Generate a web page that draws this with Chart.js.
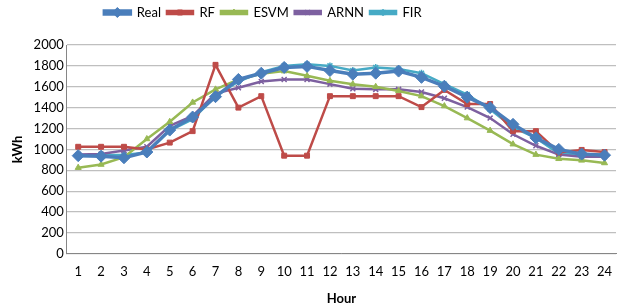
<!DOCTYPE html>
<html>
<head>
<meta charset="utf-8">
<script src="https://cdn.jsdelivr.net/npm/chart.js@4"></script>
<style>
  html, body { margin: 0; padding: 0; background: #fff; }
  #wrap { width: 628px; height: 307px; }
</style>
</head>
<body>
<div id="wrap"><canvas id="myChart" width="628" height="307"></canvas></div>
<script>
const hours = ['1','2','3','4','5','6','7','8','9','10','11','12','13','14','15','16','17','18','19','20','21','22','23','24'];
const real = [940, 935, 920, 975, 1185, 1310, 1505, 1670, 1730, 1785, 1795, 1755, 1720, 1730, 1750, 1690, 1605, 1500, 1400, 1240, 1110, 1000, 955, 945];
const rf = [1025, 1025, 1025, 1000, 1065, 1175, 1810, 1400, 1510, 940, 940, 1510, 1510, 1510, 1510, 1405, 1570, 1435, 1435, 1175, 1175, 970, 995, 975];
const esvm = [825, 855, 925, 1100, 1265, 1450, 1575, 1670, 1725, 1750, 1705, 1657, 1625, 1600, 1560, 1510, 1415, 1300, 1180, 1050, 950, 910, 895, 870];
const arnn = [950, 955, 990, 1025, 1225, 1320, 1535, 1590, 1650, 1670, 1670, 1625, 1580, 1575, 1575, 1550, 1490, 1405, 1300, 1145, 1035, 950, 930, 930];
const fir = [940, 946, 946, 970, 1180, 1290, 1510, 1650, 1740, 1800, 1815, 1800, 1755, 1785, 1770, 1730, 1625, 1525, 1385, 1210, 1110, 960, 950, 950];
const yTicks = [0, 200, 400, 600, 800, 1000, 1200, 1400, 1600, 1800, 2000];

const fontFamily = 'Lato, "Open Sans", sans-serif';
const legendShift = -50;

function makeSet(label, data, color, pointStyle, radius, width) {
  return {
    label,
    data,
    borderColor: color,
    backgroundColor: color,
    pointBackgroundColor: color,
    pointBorderColor: color,
    pointStyle,
    pointRadius: radius,
    pointBorderWidth: pointStyle === 'crossRot' || pointStyle === 'star' ? 1.5 : 1,
    borderWidth: width,
    tension: 0,
  };
}

// extra space under the legend and move it a bit left, like the excel chart
const legendSpace = {
  id: 'legendSpace',
  beforeLayout(chart) {
    const lg = chart.legend;
    if (lg && !lg._patched) {
      const fit = lg.fit;
      lg.fit = function () {
        fit.call(this);
        this.height += 16;
      };
      const draw = lg.draw;
      lg.draw = function () {
        this.ctx.save();
        this.ctx.translate(legendShift, 0);
        draw.call(this);
        this.ctx.restore();
      };
      lg._patched = true;
    }
  }
};

// draw the marker on top of each legend line
const legendMarkers = {
  id: 'legendMarkers',
  afterDraw(chart) {
    const legend = chart.legend;
    if (!legend || !legend.legendHitBoxes) return;
    const ctx = chart.ctx;
    legend.legendHitBoxes.forEach((box, i) => {
      const ds = chart.data.datasets[i];
      const x = box.left + 13 + legendShift;
      const y = box.top + box.height / 2;
      ctx.save();
      ctx.fillStyle = ds.borderColor;
      ctx.strokeStyle = ds.borderColor;
      ctx.lineWidth = ds.pointBorderWidth;
      Chart.helpers.drawPoint(ctx, {
        pointStyle: ds.pointStyle,
        radius: ds.pointStyle === 'rectRot' ? 5 : 3.5,
        borderWidth: ds.pointBorderWidth,
      }, x, y);
      ctx.restore();
    });
  }
};

const config = {
  type: 'line',
  data: {
    labels: hours,
    datasets: [
      makeSet('Real', real, '#4A7EBB', 'rectRot', 6, 3.5),
      makeSet('RF', rf, '#BE4B48', 'rect', 3.5, 2.5),
      makeSet('ESVM', esvm, '#98B954', 'triangle', 3.5, 2.5),
      makeSet('ARNN', arnn, '#7D60A0', 'crossRot', 3.5, 2.5),
      makeSet('FIR', fir, '#46AAC5', 'star', 3.5, 2.5),
    ],
  },
  options: {
    responsive: false,
    animation: false,
    layout: { padding: { left: 10, right: 12, top: 0, bottom: 0 } },
    plugins: {
      legend: {
        position: 'top',
        labels: {
          boxWidth: 26,
          boxHeight: 3,
          padding: 6,
          color: '#000',
          font: { family: fontFamily, size: 13 },
        },
      },
      tooltip: { enabled: false },
    },
    scales: {
      x: {
        offset: true,
        grid: { display: false, drawTicks: false },
        border: { color: '#868686', width: 1 },
        ticks: { color: '#000', padding: 10, maxRotation: 0, autoSkip: false, font: { family: fontFamily, size: 13 } },
        title: { display: true, text: 'Hour', color: '#000', padding: { top: 2, bottom: 0 }, font: { family: fontFamily, size: 13, weight: 'bold' } },
      },
      y: {
        min: 0,
        max: 2000,
        afterBuildTicks(axis) { axis.ticks = yTicks.map(v => ({ value: v })); },
        grid: { color: '#BFBFBF', lineWidth: 1.2, drawTicks: false },
        border: { color: '#868686', width: 1 },
        ticks: { color: '#000', padding: 3, font: { family: fontFamily, size: 13 }, callback: v => String(v) },
        title: { display: true, text: 'kWh', color: '#000', padding: { top: 0, bottom: 5 }, font: { family: fontFamily, size: 13, weight: 'bold' } },
      },
    },
  },
  plugins: [legendSpace, legendMarkers],
};

const myChart = new Chart(document.getElementById('myChart'), config);
</script>
</body>
</html>
